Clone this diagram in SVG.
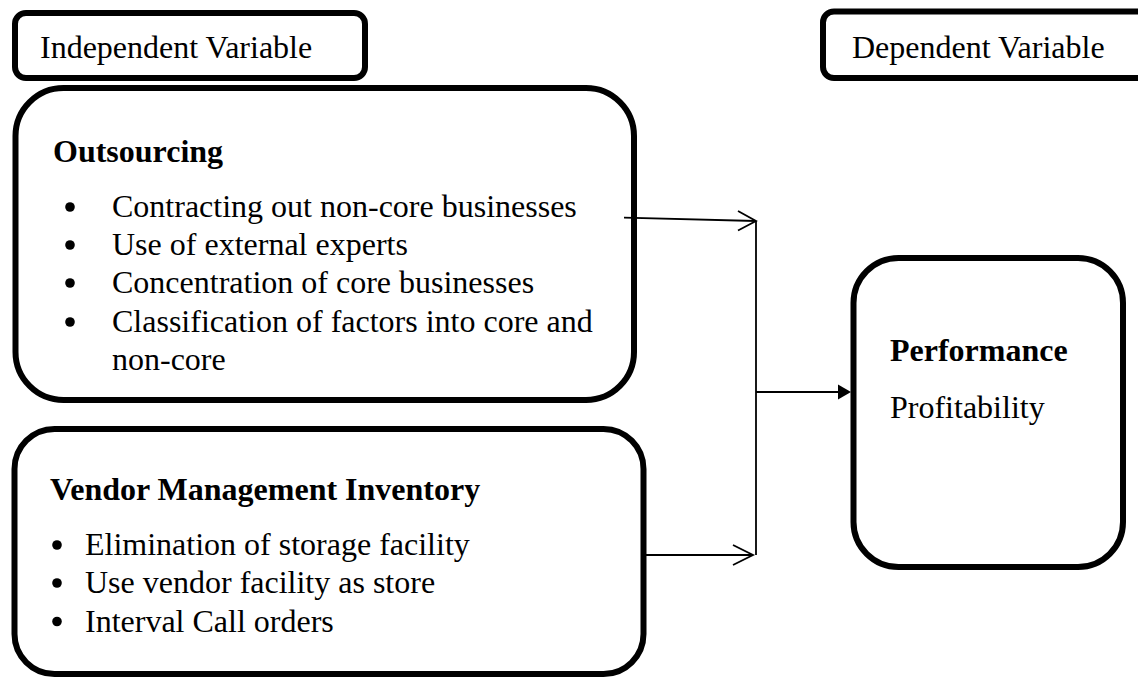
<svg xmlns="http://www.w3.org/2000/svg" width="1138" height="681" viewBox="0 0 1138 681">
<style>
.box{fill:#fff;stroke:#000;stroke-width:6}
.t{font-family:"Liberation Serif","Times New Roman",serif;font-size:32px;fill:#000}
.b{font-weight:bold}
.ln{fill:none;stroke:#000;stroke-width:1.8}
.dot{fill:#000}
</style>
<g id="independent-label">
<rect class="box" x="15" y="13" width="350" height="65" rx="11"/>
<text class="t" x="40" y="58">Independent Variable</text>
</g>
<g id="dependent-label">
<rect class="box" x="823" y="11.5" width="340" height="66.5" rx="11"/>
<text class="t" x="852" y="58">Dependent Variable</text>
</g>
<g id="outsourcing">
<rect class="box" x="15.5" y="88" width="618.5" height="312" rx="48"/>
<text class="t b" x="53" y="162">Outsourcing</text>
<circle class="dot" cx="70" cy="207" r="4.8"/>
<circle class="dot" cx="70" cy="245" r="4.8"/>
<circle class="dot" cx="70" cy="283" r="4.8"/>
<circle class="dot" cx="70" cy="322" r="4.8"/>
<text class="t" x="112" y="216.5">Contracting out non-core businesses</text>
<text class="t" x="112" y="254.5">Use of external experts</text>
<text class="t" x="112" y="292.5">Concentration of core businesses</text>
<text class="t" x="112" y="331.5">Classification of factors into core and</text>
<text class="t" x="112" y="369.5">non-core</text>
</g>
<g id="vmi">
<rect class="box" x="14.5" y="429" width="629" height="245" rx="40"/>
<text class="t b" x="50" y="500">Vendor Management Inventory</text>
<circle class="dot" cx="57" cy="545" r="4.8"/>
<circle class="dot" cx="57" cy="583" r="4.8"/>
<circle class="dot" cx="57" cy="621.5" r="4.8"/>
<text class="t" x="85" y="555">Elimination of storage facility</text>
<text class="t" x="85" y="593">Use vendor facility as store</text>
<text class="t" x="85" y="631.5">Interval Call orders</text>
</g>
<g id="performance">
<rect class="box" x="853.5" y="258" width="269.5" height="309" rx="45"/>
<text class="t b" x="890" y="360.5">Performance</text>
<text class="t" x="890" y="418">Profitability</text>
</g>
<g id="connectors">
<line class="ln" x1="624" y1="217.7" x2="756" y2="221"/>
<polyline class="ln" points="738,211 756,221 738,230.5"/>
<line class="ln" x1="756" y1="221" x2="756" y2="555"/>
<line class="ln" x1="646" y1="555" x2="753" y2="555"/>
<polyline class="ln" points="733,545 753,555 733,565"/>
<line class="ln" x1="756" y1="392" x2="840" y2="392"/>
<polygon class="dot" points="838,384.5 851,392 838,399.5"/>
</g>
</svg>
